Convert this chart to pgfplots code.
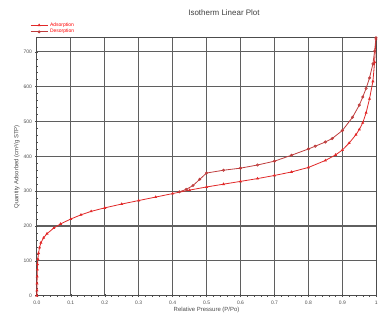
\documentclass[border=0pt]{standalone}
\usepackage{fontspec}
\setmainfont{Liberation Sans}
\usepackage{pgfplots}
\pgfplotsset{compat=1.18}
\definecolor{adsred}{RGB}{225,40,40}
\definecolor{desred}{RGB}{190,60,60}
\definecolor{gridgray}{RGB}{95,95,95}
\begin{document}
\begin{tikzpicture}
\begin{axis}[
  name=ax,
  scale only axis,
  width=341pt, height=259pt,
  xmin=0, xmax=1, ymin=0, ymax=740,
  xtick={0,0.1,0.2,0.3,0.4,0.5,0.6,0.7,0.8,0.9,1},
  xticklabels={0.0,0.1,0.2,0.3,0.4,0.5,0.6,0.7,0.8,0.9,1},
  ytick={0,100,200,300,400,500,600,700},
  minor x tick num=4,
  minor y tick num=4,
  xtick pos=bottom, ytick pos=left,
  /pgf/number format/assume math mode=true,
  tick label style={font=\fontsize{5}{6}\selectfont, text=black!70},
  tick align=center,
  major tick length=3pt, minor tick length=2pt,
  every tick/.style={black!70, line width=0.4pt},
  grid=major,
  major grid style={gridgray, line width=1.1pt},
  axis line style={black!70, line width=0.7pt},
  xlabel={Relative Pressure (P/Po)},
  ylabel={Quantity Adsorbed (cm³/g STP)},
  label style={font=\fontsize{6}{7}\selectfont, text=black!70},
  xlabel style={yshift=4pt},
  ylabel style={yshift=-3pt},
  legend style={at={(-0.02,1.005)}, anchor=south west, draw=none, fill=none,
    font=\fontsize{5}{6}\selectfont, text=red, row sep=-2.5pt, inner sep=0pt},
  legend cell align=left,
  clip=false,
]
\addplot[adsred, line width=0.8pt, mark=triangle*, mark size=1pt, mark options={fill=adsred}] coordinates {
(0.0,0) (0.0003,15) (0.0006,35) (0.001,55) (0.0015,75) (0.002,90) (0.003,105) (0.005,122)
(0.008,138) (0.012,152) (0.02,166) (0.03,178) (0.05,194) (0.07,206) (0.1,220)
(0.13,232) (0.16,242) (0.2,252) (0.25,263) (0.3,273) (0.35,283) (0.4,293)
(0.45,303) (0.5,312) (0.55,320) (0.6,328) (0.65,336) (0.7,345) (0.75,355)
(0.8,368) (0.85,388) (0.88,404) (0.9,418) (0.92,438) (0.94,462) (0.95,477)
(0.96,496) (0.97,525) (0.98,565) (0.99,615) (0.995,670) (0.999,738)
};
\addlegendentry{Adsorption}
\addplot[desred, line width=0.8pt, mark=o, mark size=1.1pt] coordinates {
(0.999,740) (0.995,702) (0.99,665) (0.98,625) (0.97,595) (0.96,570) (0.95,547)
(0.93,512) (0.9,474) (0.87,451) (0.85,441) (0.82,429) (0.8,421) (0.75,403)
(0.7,386) (0.65,375) (0.6,366) (0.55,360) (0.5,352) (0.48,334) (0.46,316)
(0.44,305) (0.42,298)
};
\addlegendentry{Desorption}
\end{axis}
\node[font=\fontsize{8}{9}\selectfont, text=black!75] at (ax.north west) [xshift=188pt, yshift=25pt] {Isotherm Linear Plot};
\path (ax.south west) ++(-37pt,-26pt) rectangle ++(381pt,323pt);
\end{tikzpicture}
\end{document}
